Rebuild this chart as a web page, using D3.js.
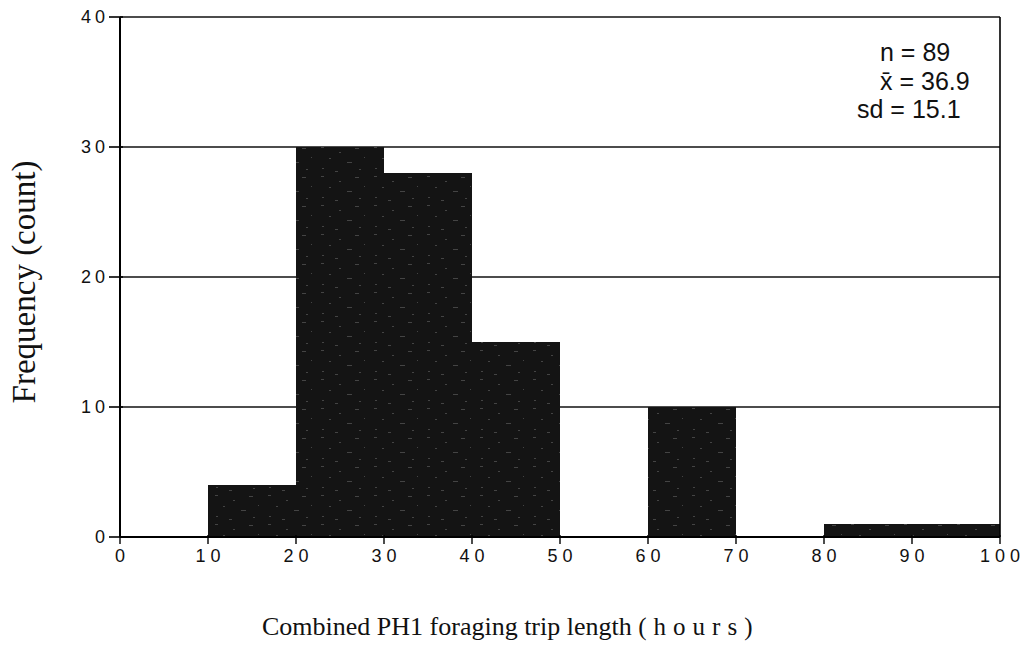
<!DOCTYPE html>
<html lang="en">
<head>
  <meta charset="UTF-8">
  <title>Combined PH1 foraging trip length</title>
  <script src="https://d3js.org/d3.v7.min.js"></script>
  <style>
    body { margin: 0; background: #fff; }
  </style>
</head>
<body>
  <svg width="1030" height="648"></svg>
  <script>
    // Histogram bins (hours) and counts
    const binStarts = [0, 10, 20, 30, 40, 50, 60, 70, 80, 90];
    const binWidth = 10;
    const counts = [0, 4, 30, 28, 15, 0, 10, 0, 1, 1];
    const yTicks = [0, 10, 20, 30, 40];
    const xTicks = [0, 10, 20, 30, 40, 50, 60, 70, 80, 90, 100];
    const stats = [
      { label: 'n = 89', x: 880 },
      { label: 'x\u0304 = 36.9', x: 880 },
      { label: 'sd = 15.1', x: 857 }
    ];

    const svg = d3.select('svg');
    const plotLeft = 120, plotRight = 1000, plotTop = 17, plotBottom = 537;

    const x = d3.scaleLinear().domain([0, 100]).range([plotLeft, plotRight]);
    const y = d3.scaleLinear().domain([0, 40]).range([plotBottom, plotTop]);

    // speckled fill, like the photocopied original
    const pat = svg.append('defs').append('pattern')
      .attr('id', 'speckle')
      .attr('patternUnits', 'userSpaceOnUse')
      .attr('width', 53).attr('height', 29);
    pat.append('rect').attr('width', 53).attr('height', 29).attr('fill', '#141414');
    [[3, 2, 3], [21, 7, 2], [37, 3, 4], [11, 13, 2], [29, 17, 5], [46, 12, 1],
     [4, 23, 2], [17, 26, 3], [41, 24, 2]].forEach(([px, py, w]) => {
      pat.append('rect')
        .attr('x', px).attr('y', py).attr('width', w).attr('height', 1)
        .attr('fill', '#444');
    });

    // Grid lines
    svg.append('g')
      .selectAll('line')
      .data(yTicks.filter(d => d > 0))
      .enter()
      .append('line')
      .attr('x1', plotLeft)
      .attr('x2', plotRight)
      .attr('y1', d => y(d))
      .attr('y2', d => y(d))
      .attr('stroke', '#111')
      .attr('stroke-width', 1.6);

    // Bars
    const bins = binStarts.map((b, i) => ({ x0: b, x1: b + binWidth, n: counts[i] }))
      .filter(d => d.n > 0);
    svg.append('g')
      .selectAll('rect')
      .data(bins)
      .enter()
      .append('rect')
      .attr('x', d => x(d.x0))
      .attr('y', d => y(d.n))
      .attr('width', d => x(d.x1) - x(d.x0))
      .attr('height', d => y(0) - y(d.n))
      .attr('fill', 'url(#speckle)');

    // Frame: left, right and bottom
    svg.append('line')
      .attr('x1', plotLeft).attr('x2', plotLeft).attr('y1', plotTop).attr('y2', plotBottom)
      .attr('stroke', '#000').attr('stroke-width', 2);
    svg.append('line')
      .attr('x1', plotRight).attr('x2', plotRight).attr('y1', plotTop).attr('y2', plotBottom)
      .attr('stroke', '#000').attr('stroke-width', 1.6);
    svg.append('line')
      .attr('x1', plotLeft).attr('x2', plotRight).attr('y1', plotBottom).attr('y2', plotBottom)
      .attr('stroke', '#000').attr('stroke-width', 2);

    // Y axis ticks and labels
    const yAxis = svg.append('g');
    yAxis.selectAll('line')
      .data(yTicks)
      .enter()
      .append('line')
      .attr('x1', plotLeft - 11)
      .attr('x2', plotLeft + 3)
      .attr('y1', d => y(d))
      .attr('y2', d => y(d))
      .attr('stroke', '#000')
      .attr('stroke-width', 1.6);
    yAxis.selectAll('text')
      .data(yTicks)
      .enter()
      .append('text')
      .attr('x', plotLeft - 11)
      .attr('y', d => y(d) + 6)
      .attr('text-anchor', 'end')
      .attr('font-family', 'Liberation Sans, Arial, sans-serif')
      .attr('font-size', 18)
      .attr('letter-spacing', 4)
      .attr('fill', '#111')
      .text(d => d);

    // X axis ticks and labels
    const xAxis = svg.append('g');
    xAxis.selectAll('line')
      .data(xTicks)
      .enter()
      .append('line')
      .attr('x1', d => x(d))
      .attr('x2', d => x(d))
      .attr('y1', plotBottom - 2)
      .attr('y2', plotBottom + 7)
      .attr('stroke', '#000')
      .attr('stroke-width', 1.4);
    xAxis.selectAll('text')
      .data(xTicks)
      .enter()
      .append('text')
      .attr('x', d => x(d) + 2.5)
      .attr('y', 562)
      .attr('text-anchor', 'middle')
      .attr('font-family', 'Liberation Sans, Arial, sans-serif')
      .attr('font-size', 18)
      .attr('letter-spacing', 5)
      .attr('fill', '#111')
      .text(d => d);

    // Summary statistics
    svg.append('g')
      .selectAll('text')
      .data(stats)
      .enter()
      .append('text')
      .attr('x', d => d.x)
      .attr('y', (d, i) => 61 + i * 28.5)
      .attr('font-family', 'Liberation Sans, Arial, sans-serif')
      .attr('font-size', 25)
      .attr('fill', '#111')
      .text(d => d.label);

    // Axis titles
    svg.append('text')
      .attr('transform', 'translate(35,282) rotate(-90)')
      .attr('text-anchor', 'middle')
      .attr('font-family', 'Liberation Serif, Times New Roman, serif')
      .attr('font-size', 33)
      .attr('fill', '#111')
      .text('Frequency (count)');

    const xt = svg.append('text')
      .attr('x', 262)
      .attr('y', 635)
      .attr('font-family', 'Liberation Serif, Times New Roman, serif')
      .attr('font-size', 26)
      .attr('fill', '#111');
    xt.append('tspan').text('Combined PH1 foraging trip length ');
    xt.append('tspan')
      .attr('letter-spacing', 7)
      .attr('font-size', 25)
      .text('(hours)');
  </script>
</body>
</html>
